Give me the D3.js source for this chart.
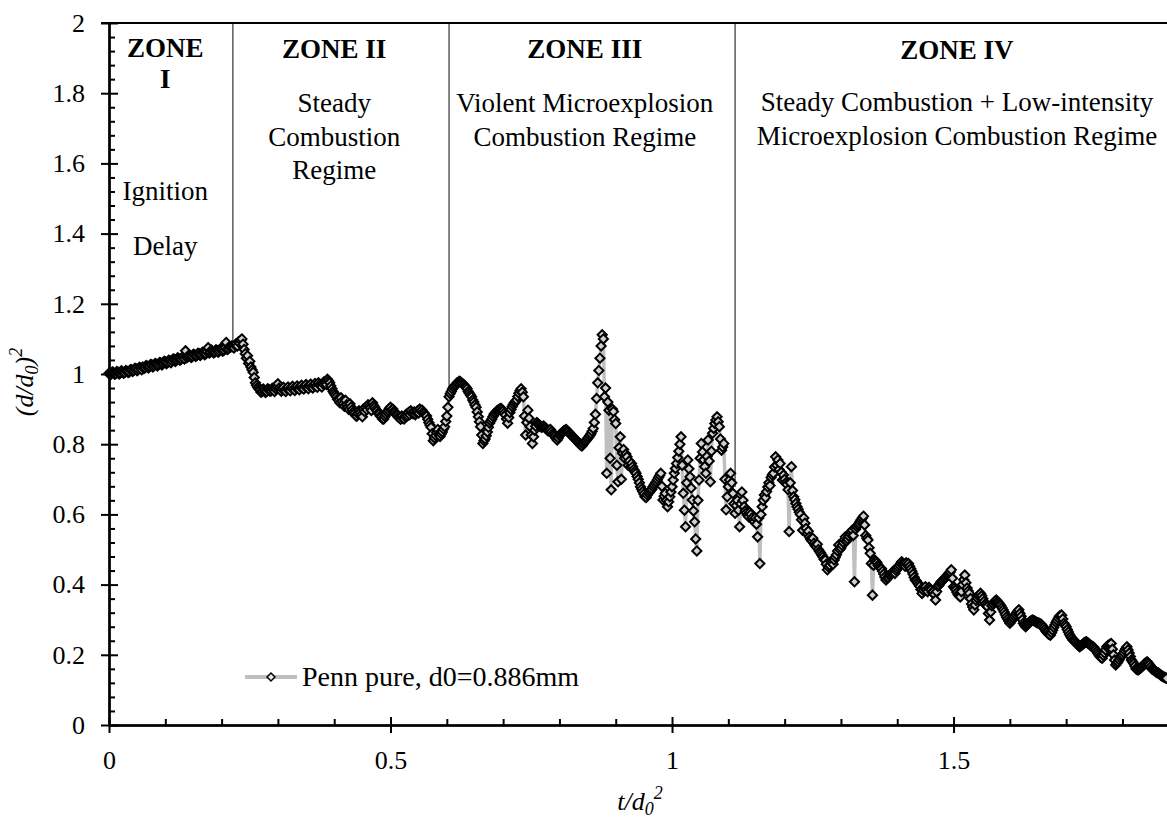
<!DOCTYPE html>
<html>
<head>
<meta charset="utf-8">
<script src="https://cdn.jsdelivr.net/npm/d3@7"></script>
<style>
  html, body { margin: 0; padding: 0; background: #fff; }
  svg { display: block; font-family: "Liberation Serif", "Times New Roman", serif; }
</style>
</head>
<body>
<svg id="chart" width="1167" height="819"></svg>
<script>
// Droplet diameter history, (d/d0)^2 against normalised time t/d0^2.
// Samples are recorded every SAMPLE_STEP in t/d0^2, starting at t = 0.
const SAMPLE_STEP = 0.002;

// Zone I: ignition delay (heating, droplet swells)
const zoneIValues = [
  1.002, 0.998, 1.000, 1.006, 1.004, 0.999, 1.001, 1.007, 1.005, 1.000,
  1.003, 1.009, 1.006, 1.002, 1.004, 1.010, 1.008, 1.004, 1.006, 1.012,
  1.012, 1.007, 1.010, 1.016, 1.015, 1.009, 1.013, 1.019, 1.017, 1.012,
  1.020, 1.016, 1.018, 1.024, 1.022, 1.017, 1.021, 1.027, 1.026, 1.020,
  1.024, 1.030, 1.028, 1.023, 1.027, 1.033, 1.031, 1.026, 1.030, 1.036,
  1.035, 1.029, 1.033, 1.039, 1.038, 1.032, 1.037, 1.043, 1.041, 1.036,
  1.040, 1.046, 1.044, 1.039, 1.042, 1.048, 1.047, 1.043, 1.066, 1.046,
  1.049, 1.054, 1.052, 1.047, 1.050, 1.056, 1.055, 1.050, 1.053, 1.059,
  1.058, 1.053, 1.056, 1.062, 1.060, 1.055, 1.058, 1.064, 1.075, 1.060,
  1.062, 1.068, 1.065, 1.060, 1.063, 1.069, 1.067, 1.062, 1.066, 1.072,
  1.070, 1.065, 1.068, 1.074, 1.090, 1.070, 1.072, 1.078, 1.076, 1.080
];

// Zone II: steady combustion
const zoneIIValues = [
  1.078, 1.074, 1.082, 1.086, 1.080, 1.092, 1.088, 1.096, 1.100, 1.085,
  1.070, 1.058, 1.045, 1.052, 1.030, 1.036, 1.020, 1.012, 1.005, 0.990,
  0.975, 0.968, 0.962, 0.958, 0.955, 0.948, 0.950, 0.957, 0.953, 0.947,
  0.950, 0.958, 0.956, 0.951, 0.952, 0.959, 0.955, 0.950, 0.958, 0.963,
  0.972, 0.960, 0.955, 0.951, 0.957, 0.962, 0.954, 0.950, 0.958, 0.963,
  0.956, 0.952, 0.960, 0.965, 0.958, 0.953, 0.961, 0.966, 0.959, 0.955,
  0.963, 0.968, 0.961, 0.957, 0.965, 0.970, 0.963, 0.958, 0.966, 0.971,
  0.964, 0.960, 0.968, 0.973, 0.966, 0.962, 0.975, 0.969, 0.968, 0.963,
  0.972, 0.978, 0.976, 0.970, 0.985, 0.980, 0.975, 0.966, 0.958, 0.950,
  0.945, 0.940, 0.935, 0.928, 0.925, 0.918, 0.932, 0.922, 0.915, 0.908,
  0.925, 0.912, 0.905, 0.899, 0.915, 0.906, 0.898, 0.892, 0.888, 0.882,
  0.880, 0.887, 0.895, 0.890, 0.884, 0.878, 0.900, 0.893, 0.905, 0.898,
  0.912, 0.907, 0.903, 0.896, 0.918, 0.910, 0.905, 0.899, 0.895, 0.889,
  0.886, 0.880, 0.878, 0.872, 0.872, 0.879, 0.885, 0.891, 0.896, 0.902,
  0.905, 0.897, 0.900, 0.894, 0.890, 0.885, 0.882, 0.877, 0.876, 0.871,
  0.880, 0.874, 0.872, 0.879, 0.885, 0.881, 0.890, 0.884, 0.895, 0.889,
  0.887, 0.892, 0.884, 0.890, 0.895, 0.889, 0.900, 0.894, 0.897, 0.891,
  0.888, 0.883, 0.880, 0.871, 0.862, 0.855, 0.848, 0.830, 0.810, 0.818,
  0.825, 0.834, 0.842, 0.830, 0.822, 0.829, 0.835, 0.843, 0.850, 0.865,
  0.880, 0.905
];

// Zone III: violent microexplosion combustion
const zoneIIIValues = [
  0.935, 0.944, 0.950, 0.957, 0.962, 0.966, 0.970, 0.974, 0.975, 0.979,
  0.978, 0.975, 0.972, 0.969, 0.966, 0.962, 0.958, 0.950, 0.945, 0.940,
  0.935, 0.926, 0.920, 0.912, 0.905, 0.892, 0.878, 0.864, 0.850, 0.826,
  0.802, 0.810, 0.815, 0.824, 0.835, 0.848, 0.860, 0.866, 0.872, 0.879,
  0.885, 0.889, 0.893, 0.896, 0.898, 0.900, 0.902, 0.899, 0.895, 0.889,
  0.883, 0.872, 0.860, 0.876, 0.890, 0.899, 0.907, 0.913, 0.918, 0.922,
  0.926, 0.936, 0.945, 0.952, 0.958, 0.948, 0.935, 0.880, 0.826, 0.862,
  0.897, 0.874, 0.850, 0.826, 0.802, 0.821, 0.840, 0.851, 0.862, 0.858,
  0.855, 0.851, 0.848, 0.850, 0.852, 0.848, 0.845, 0.841, 0.838, 0.840,
  0.842, 0.836, 0.830, 0.826, 0.822, 0.817, 0.812, 0.818, 0.825, 0.829,
  0.832, 0.835, 0.838, 0.840, 0.842, 0.838, 0.835, 0.831, 0.828, 0.824,
  0.821, 0.818, 0.815, 0.811, 0.808, 0.804, 0.800, 0.797, 0.795, 0.800,
  0.805, 0.808, 0.812, 0.816, 0.820, 0.825, 0.830, 0.837, 0.845, 0.862,
  0.885, 0.930, 0.975, 1.010, 1.045, 1.080, 1.112, 1.100, 0.935, 0.960,
  0.717, 0.920, 0.897, 0.760, 0.670, 0.900, 0.893, 0.870, 0.859, 0.740,
  0.693, 0.790, 0.821, 0.700, 0.774, 0.785, 0.760, 0.772, 0.764, 0.740,
  0.752, 0.735, 0.745, 0.736, 0.728, 0.722, 0.717, 0.708, 0.700, 0.690,
  0.679, 0.672, 0.665, 0.658, 0.650, 0.648, 0.655, 0.660, 0.664, 0.668,
  0.672, 0.678, 0.683, 0.688, 0.693, 0.699, 0.705, 0.711, 0.717, 0.680,
  0.641, 0.652, 0.660, 0.640, 0.622, 0.636, 0.650, 0.664, 0.679, 0.698,
  0.717, 0.731, 0.745, 0.762, 0.780, 0.800, 0.821, 0.740, 0.660, 0.612,
  0.565, 0.690, 0.755, 0.730, 0.707, 0.675, 0.641, 0.610, 0.579, 0.530,
  0.496, 0.640, 0.698, 0.760, 0.802, 0.778, 0.755, 0.736, 0.717, 0.765,
  0.812, 0.752, 0.693, 0.780, 0.831, 0.845, 0.859, 0.869, 0.878, 0.864,
  0.850, 0.815, 0.783, 0.792, 0.802, 0.700, 0.613, 0.650, 0.679, 0.698,
  0.717, 0.690, 0.660, 0.630, 0.603, 0.625
];

// Zone IV: steady combustion with low-intensity microexplosions
const zoneIVValues = [
  0.640, 0.612, 0.565, 0.630, 0.664, 0.640, 0.622, 0.610, 0.605, 0.598,
  0.593, 0.606, 0.600, 0.590, 0.584, 0.579, 0.590, 0.572, 0.536, 0.590,
  0.460, 0.600, 0.622, 0.640, 0.655, 0.648, 0.665, 0.678, 0.690, 0.682,
  0.705, 0.712, 0.717, 0.735, 0.764, 0.740, 0.755, 0.728, 0.745, 0.720,
  0.698, 0.712, 0.700, 0.690, 0.685, 0.670, 0.551, 0.690, 0.736, 0.668,
  0.650, 0.642, 0.631, 0.622, 0.615, 0.606, 0.600, 0.585, 0.555, 0.590,
  0.575, 0.560, 0.545, 0.552, 0.536, 0.530, 0.525, 0.532, 0.518, 0.512,
  0.508, 0.515, 0.500, 0.494, 0.490, 0.484, 0.479, 0.472, 0.470, 0.458,
  0.442, 0.450, 0.455, 0.466, 0.462, 0.458, 0.470, 0.478, 0.485, 0.496,
  0.513, 0.500, 0.505, 0.512, 0.520, 0.528, 0.536, 0.524, 0.530, 0.538,
  0.545, 0.550, 0.555, 0.540, 0.408, 0.558, 0.565, 0.570, 0.574, 0.580,
  0.585, 0.590, 0.595, 0.570, 0.540, 0.532, 0.527, 0.505, 0.489, 0.460,
  0.370, 0.455, 0.470, 0.466, 0.462, 0.455, 0.451, 0.448, 0.445, 0.438,
  0.430, 0.422, 0.413, 0.418, 0.420, 0.426, 0.428, 0.432, 0.435, 0.440,
  0.432, 0.440, 0.445, 0.450, 0.455, 0.460, 0.465, 0.460, 0.458, 0.452,
  0.462, 0.455, 0.460, 0.452, 0.445, 0.438, 0.430, 0.421, 0.413, 0.410,
  0.405, 0.400, 0.395, 0.386, 0.375, 0.384, 0.390, 0.394, 0.385, 0.380,
  0.392, 0.388, 0.385, 0.378, 0.380, 0.372, 0.356, 0.380, 0.395, 0.398,
  0.404, 0.408, 0.410, 0.414, 0.418, 0.421, 0.425, 0.428, 0.432, 0.436,
  0.442, 0.418, 0.394, 0.390, 0.385, 0.378, 0.372, 0.368, 0.365, 0.380,
  0.400, 0.414, 0.427, 0.405, 0.390, 0.382, 0.375, 0.360, 0.345, 0.336,
  0.328, 0.342, 0.355, 0.362, 0.368, 0.372, 0.375, 0.368, 0.360, 0.352,
  0.345, 0.341, 0.337, 0.318, 0.299, 0.322, 0.340, 0.345, 0.350, 0.353,
  0.356, 0.352, 0.348, 0.344, 0.340, 0.334, 0.328, 0.322, 0.315, 0.308,
  0.302, 0.296, 0.290, 0.295, 0.300, 0.305, 0.310, 0.315, 0.320, 0.324,
  0.328, 0.318, 0.310, 0.300, 0.290, 0.285, 0.280, 0.284, 0.288, 0.292,
  0.295, 0.297, 0.299, 0.298, 0.296, 0.294, 0.292, 0.291, 0.290, 0.288,
  0.286, 0.282, 0.278, 0.273, 0.268, 0.264, 0.260, 0.258, 0.256, 0.263,
  0.270, 0.278, 0.285, 0.292, 0.298, 0.304, 0.310, 0.312, 0.313, 0.302,
  0.290, 0.285, 0.280, 0.272, 0.265, 0.258, 0.252, 0.247, 0.242, 0.240,
  0.238, 0.234, 0.230, 0.226, 0.223, 0.225, 0.228, 0.231, 0.234, 0.236,
  0.237, 0.234, 0.232, 0.229, 0.226, 0.224, 0.223, 0.219, 0.215, 0.210,
  0.205, 0.200, 0.195, 0.192, 0.190, 0.198, 0.205, 0.214, 0.223, 0.226,
  0.228, 0.230, 0.232, 0.216, 0.200, 0.185, 0.171, 0.176, 0.180, 0.186,
  0.192, 0.196, 0.200, 0.206, 0.212, 0.218, 0.223, 0.214, 0.205, 0.195,
  0.185, 0.180, 0.175, 0.168, 0.160, 0.158, 0.157, 0.160, 0.162, 0.165,
  0.168, 0.172, 0.175, 0.178, 0.180, 0.176, 0.172, 0.166, 0.160, 0.158,
  0.157, 0.154, 0.150, 0.149, 0.148, 0.145, 0.142, 0.140, 0.138, 0.136,
  0.135, 0.133
];

// Zone boundaries (t/d0^2) and the (d/d0)^2 level where each marker line stops
const zoneBoundaries = [0.22, 0.604, 1.112];
const boundaryLineEnds = [1.09, 0.952, 0.678];

// Zone captions: title lines and description lines, with their centre in t/d0^2
const zoneTitles = [["ZONE", "I"], ["ZONE II"], ["ZONE III"], ["ZONE IV"]];
const zoneNotes = [
  ["Ignition", "Delay"],
  ["Steady", "Combustion", "Regime"],
  ["Violent Microexplosion", "Combustion Regime"],
  ["Steady Combustion + Low-intensity", "Microexplosion Combustion Regime"]
];
const zoneCentres = [0.1, 0.4, 0.845, 1.506];

// Axis ticks
const xMajorTicks = [0, 0.5, 1, 1.5];
const xTickLabels = ["0", "0.5", "1", "1.5"];
const yMajorTicks = [0, 0.2, 0.4, 0.6, 0.8, 1, 1.2, 1.4, 1.6, 1.8, 2];
const yTickLabels = ["0", "0.2", "0.4", "0.6", "0.8", "1", "1.2", "1.4", "1.6", "1.8", "2"];
const xMinorTicks = [0.1, 0.2, 0.3, 0.4, 0.6, 0.7, 0.8, 0.9, 1.1, 1.2, 1.3, 1.4, 1.6, 1.7, 1.8];
const yMinorTicks = [0.04, 0.08, 0.12, 0.16, 0.24, 0.28, 0.32, 0.36, 0.44, 0.48, 0.52, 0.56,
  0.64, 0.68, 0.72, 0.76, 0.84, 0.88, 0.92, 0.96, 1.04, 1.08, 1.12, 1.16, 1.24, 1.28, 1.32, 1.36,
  1.44, 1.48, 1.52, 1.56, 1.64, 1.68, 1.72, 1.76, 1.84, 1.88, 1.92, 1.96];

const seriesName = "Penn pure, d0=0.886mm";

// ---------------------------------------------------------------------------
const allValues = [].concat(zoneIValues, zoneIIValues, zoneIIIValues, zoneIVValues);
const series = allValues.map((v, i) => ({ t: +(i * SAMPLE_STEP).toFixed(4), v }));

const plot = { left: 109, right: 1167.5, top: 23, bottom: 725 };

const x = d3.scaleLinear().domain([0, 1.88]).range([plot.left, plot.right]);
const y = d3.scaleLinear().domain([0, 2]).range([plot.bottom, plot.top]);

const svg = d3.select("#chart");
const TICK_FONT = 26;
const NOTE_FONT = 27;

// Zone boundary lines
svg.append("g").selectAll("line")
  .data(zoneBoundaries)
  .join("line")
  .attr("x1", d => x(d)).attr("x2", d => x(d))
  .attr("y1", y(2)).attr("y2", (d, i) => y(boundaryLineEnds[i]))
  .attr("stroke", "#404040").attr("stroke-width", 1.3);

// Connecting line
const line = d3.line().x(d => x(d.t)).y(d => y(d.v));
svg.append("path")
  .datum(series)
  .attr("d", line)
  .attr("fill", "none")
  .attr("stroke", "#bfbfbf")
  .attr("stroke-width", 3.5)
  .attr("stroke-linejoin", "round");

// Diamond markers
const diamond = d3.symbol().type(d3.symbolDiamond2).size(54);
svg.append("g").selectAll("path")
  .data(series)
  .join("path")
  .attr("d", diamond)
  .attr("transform", d => `translate(${x(d.t)},${y(d.v)})`)
  .attr("fill", "#d0d0d0")
  .attr("stroke", "#000")
  .attr("stroke-width", 2);

// Axes: outer half of major ticks with labels, inner half and minor ticks without
const yAxisOut = d3.axisLeft(y).tickValues(yMajorTicks)
  .tickFormat((d, i) => yTickLabels[i]).tickSizeInner(8).tickSizeOuter(0).tickPadding(16);
const yAxisIn = d3.axisLeft(y).tickValues(yMajorTicks).tickFormat("").tickSizeInner(-9).tickSizeOuter(0);
const yAxisMinor = d3.axisLeft(y).tickValues(yMinorTicks).tickFormat("").tickSizeInner(-6).tickSizeOuter(0);
const xAxisOut = d3.axisBottom(x).tickValues(xMajorTicks)
  .tickFormat((d, i) => xTickLabels[i]).tickSizeInner(8).tickSizeOuter(0).tickPadding(18);
const xAxisIn = d3.axisBottom(x).tickValues(xMajorTicks).tickFormat("").tickSizeInner(-8).tickSizeOuter(0);
const xAxisMinor = d3.axisBottom(x).tickValues(xMinorTicks).tickFormat("").tickSizeInner(-6).tickSizeOuter(0);

function styleAxis(g) {
  g.attr("font-family", null).attr("font-size", null);
  g.selectAll("path.domain").attr("stroke", "#000").attr("stroke-width", 2);
  g.selectAll(".tick line").attr("stroke", "#000").attr("stroke-width", 2);
  g.selectAll(".tick text").attr("fill", "#000").style("font-size", TICK_FONT + "px");
}

[yAxisOut, yAxisIn, yAxisMinor].forEach(a =>
  svg.append("g").attr("transform", `translate(${plot.left},0)`).call(a).call(styleAxis));
[xAxisOut, xAxisIn, xAxisMinor].forEach(a =>
  svg.append("g").attr("transform", `translate(0,${plot.bottom})`).call(a).call(styleAxis));

// Top frame line
svg.append("line")
  .attr("x1", plot.left - 8).attr("x2", plot.right)
  .attr("y1", y(2)).attr("y2", y(2))
  .attr("stroke", "#000").attr("stroke-width", 2);

// Zone captions
const titleLayouts = [[57, 88], [58], [58], [59]];
const noteLayouts = [[200, 255], [112, 146, 179], [112, 146], [111, 145]];
zoneTitles.forEach((lines, zi) => {
  lines.forEach((txt, li) => {
    svg.append("text")
      .attr("x", x(zoneCentres[zi])).attr("y", titleLayouts[zi][li])
      .attr("text-anchor", "middle").attr("font-weight", "bold")
      .style("font-size", NOTE_FONT + "px").text(txt);
  });
});
zoneNotes.forEach((lines, zi) => {
  lines.forEach((txt, li) => {
    svg.append("text")
      .attr("x", x(zoneCentres[zi])).attr("y", noteLayouts[zi][li])
      .attr("text-anchor", "middle")
      .style("font-size", NOTE_FONT + "px").text(txt);
  });
});

// Legend
const legend = svg.append("g").attr("transform", "translate(245,677)");
legend.append("line").attr("x1", 0).attr("x2", 52).attr("y1", 0).attr("y2", 0)
  .attr("stroke", "#bfbfbf").attr("stroke-width", 4);
legend.append("path").attr("d", d3.symbol().type(d3.symbolDiamond2).size(40)).attr("transform", "translate(26,0)")
  .attr("fill", "#e8e8e8").attr("stroke", "#000").attr("stroke-width", 1.5);
legend.append("text").attr("x", 57).attr("y", 9)
  .style("font-size", "28px").text(seriesName);

// Axis titles
const xTitle = svg.append("text")
  .attr("x", 640).attr("y", 810).attr("text-anchor", "middle")
  .attr("font-style", "italic").style("font-size", TICK_FONT + "px");
xTitle.append("tspan").text("t/d");
xTitle.append("tspan").attr("dy", 5).style("font-size", "18px").text("0");
xTitle.append("tspan").attr("dy", -16).style("font-size", "18px").text("2");

const yTitle = svg.append("text")
  .attr("transform", "translate(33,382) rotate(-90)")
  .attr("text-anchor", "middle")
  .attr("font-style", "italic").style("font-size", TICK_FONT + "px");
yTitle.append("tspan").text("(d/d");
yTitle.append("tspan").attr("dy", 5).style("font-size", "18px").text("0");
yTitle.append("tspan").attr("dy", -5).text(")");
yTitle.append("tspan").attr("dy", -11).style("font-size", "18px").text("2");
</script>
</body>
</html>
